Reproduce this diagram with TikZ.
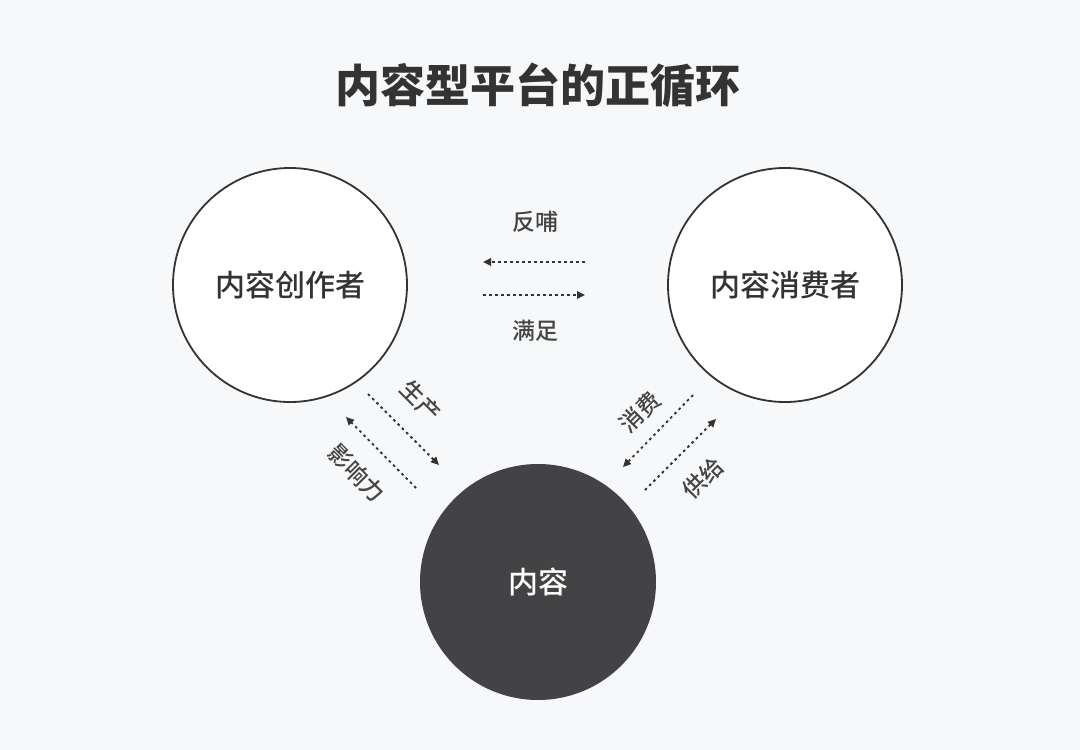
\documentclass[tikz,border=0pt]{standalone}
\usepackage{fontspec}
\setmainfont{Noto Sans CJK SC}[UprightFont={* Medium},BoldFont={* Black}]
\usetikzlibrary{arrows.meta}
\definecolor{bg}{HTML}{F7F8FA}
\definecolor{ink}{HTML}{333333}
\definecolor{dark}{HTML}{434346}
\definecolor{lbl}{HTML}{444444}
\begin{document}
\begin{tikzpicture}[x=1pt,y=-1pt,
  ring/.style={circle,draw=ink,line width=1.8pt,fill=white,minimum size=234pt,inner sep=0pt,font=\fontsize{30}{30}\selectfont,text=ink},
  core/.style={circle,fill=dark,minimum size=236pt,inner sep=0pt,font=\fontsize{30}{30}\selectfont,text=white},
  flow/.style={line width=1.8pt,draw=ink,dash pattern=on 2.6pt off 3.4pt,-{Triangle[length=8pt,width=7.5pt]}},
  tag/.style={font=\fontsize{23}{23}\selectfont,text=lbl,inner sep=0pt}]
\fill[bg] (0,0) rectangle (1080,750);
\useasboundingbox (0,0) rectangle (1080,750);
\node[font=\fontsize{45}{45}\selectfont\bfseries,text=ink] (title) at (538,85) {内容型平台的正循环};
\node[ring] (creator) at (290,285) {内容创作者};
\node[ring] (consumer) at (785,285) {内容消费者};
\node[core] (content) at (538,582) {内容};
% horizontal
\coordinate (h1s) at (585,262); \coordinate (h1e) at (483,262);
\coordinate (h2s) at (483,295); \coordinate (h2e) at (585,295);
\draw[flow] (h1s) -- (h1e);
\draw[flow] (h2s) -- (h2e);
\node[tag] (fb) at (535,222) {反哺};
\node[tag] (mz) at (535,331) {满足};
% left diagonal
\coordinate (l1s) at (368,394); \coordinate (l1e) at (439,465);
\coordinate (l2s) at (416,488); \coordinate (l2e) at (346,417);
\draw[flow] (l1s) -- (l1e);
\draw[flow] (l2s) -- (l2e);
\node[tag,rotate=-45] (sc) at (421,401) {生产};
\node[tag,rotate=-45] (yxl) at (357,473) {影响力};
% right diagonal
\coordinate (r1s) at (693,395); \coordinate (r1e) at (623,467);
\coordinate (r2s) at (645,490); \coordinate (r2e) at (716,419);
\draw[flow] (r1s) -- (r1e);
\draw[flow] (r2s) -- (r2e);
\node[tag,rotate=45] (xf) at (640,412) {消费};
\node[tag,rotate=45] (gj) at (703,478) {供给};
\end{tikzpicture}
\end{document}
